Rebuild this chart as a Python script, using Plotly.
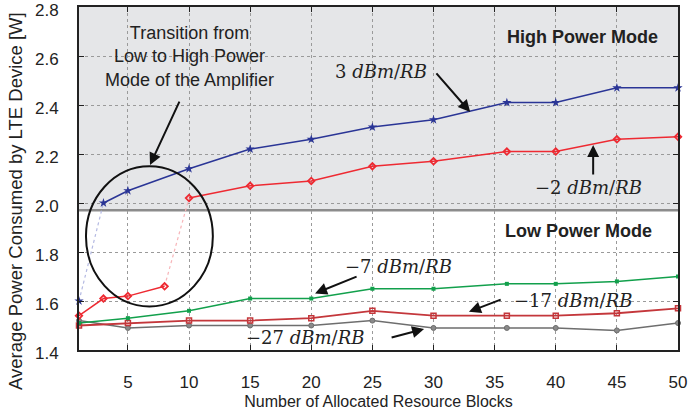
import plotly.graph_objects as go

# ---- data ----
x_blue = [1, 3, 5, 10, 15, 20, 25, 30, 36, 40, 45, 50]
p_3dbm = [1.60, 2.00, 2.05, 2.14, 2.22, 2.26, 2.31, 2.34, 2.41, 2.41, 2.47, 2.47]

x_red = [1, 3, 5, 8, 10, 15, 20, 25, 30, 36, 40, 45, 50]
p_m2dbm = [1.54, 1.61, 1.62, 1.66, 2.02, 2.07, 2.09, 2.15, 2.17, 2.21, 2.21, 2.26, 2.27]

x_low = [1, 5, 10, 15, 20, 25, 30, 36, 40, 45, 50]
p_m7dbm = [1.51, 1.53, 1.56, 1.61, 1.61, 1.65, 1.65, 1.67, 1.67, 1.68, 1.70]
p_m17dbm = [1.50, 1.51, 1.52, 1.52, 1.53, 1.56, 1.54, 1.54, 1.54, 1.55, 1.57]
p_m27dbm = [1.52, 1.49, 1.50, 1.50, 1.50, 1.52, 1.49, 1.49, 1.49, 1.48, 1.51]

x_ticks = [5, 10, 15, 20, 25, 30, 35, 40, 45, 50]
y_ticks = [1.4, 1.6, 1.8, 2.0, 2.2, 2.4, 2.6, 2.8]
mode_threshold = 1.97

BLUE = "#2a3596"
RED = "#ee2a32"
GREEN = "#12a04c"
DRED = "#c4373b"
GRAY = "#6e6e6e"

fig = go.Figure()

def seg(x, y, color, width=1.5, dash="solid", marker=None, mode="lines+markers"):
    fig.add_trace(go.Scatter(x=x, y=y, mode=mode, cliponaxis=False,
                             line=dict(color=color, width=width, dash=dash),
                             marker=marker, showlegend=False, hoverinfo="skip"))

# low-power curves
seg(x_low, p_m27dbm, GRAY, marker=dict(symbol="circle", size=5, color="#8a8a8a",
                                       line=dict(color=GRAY, width=1)))
seg(x_low, p_m17dbm, DRED, width=1.8, marker=dict(symbol="square-open", size=5, color=DRED,
                                                  line=dict(width=1.5)))
seg(x_low, p_m7dbm, GREEN, marker=dict(symbol="square", size=4, color=GREEN))

# transition (dotted) segments
seg(x_blue[0:2], p_3dbm[0:2], "#b4b9e2", width=1.2, dash="dot", mode="lines")
seg(x_red[3:5], p_m2dbm[3:5], "#f7b4b8", width=1.2, dash="dot", mode="lines")

# -2 dBm/RB
dmark = dict(symbol="diamond-open", size=5, color=RED, line=dict(width=1.8))
seg(x_red[0:4], p_m2dbm[0:4], RED, marker=dmark)
seg(x_red[4:], p_m2dbm[4:], RED, marker=dmark)

# 3 dBm/RB
smark = dict(symbol="star", size=7, color=BLUE)
seg(x_blue[0:1], p_3dbm[0:1], BLUE, marker=smark, mode="markers")
seg(x_blue[1:], p_3dbm[1:], BLUE, marker=smark)

shapes = [
    dict(type="rect", xref="x", yref="y", x0=1, x1=50, y0=mode_threshold, y1=2.8,
         fillcolor="#e5e6e8", line=dict(width=0), layer="below"),
    dict(type="line", xref="x", yref="y", x0=1, x1=50, y0=mode_threshold, y1=mode_threshold,
         line=dict(color="#8c8c8c", width=2.5), layer="below"),
    dict(type="circle", xref="x", yref="y", x0=1.57, x1=11.95, y0=1.578, y1=2.15,
         line=dict(color="#111111", width=2)),
]

SANS = "Liberation Sans, Arial, sans-serif"
SERIF = "DejaVu Serif, serif"
MS = 18

plot_l, plot_r, plot_t, plot_b = 79, 10, 7, 66
pw, ph = 688 - plot_l - plot_r, 416 - plot_t - plot_b

annotations = [
    # y-axis title (placed to match reference, slightly below axis centre)
    dict(x=(15 - plot_l) / pw, y=(416 - plot_b - 201) / ph, xref="paper", yref="paper",
         xanchor="center", yanchor="middle", showarrow=False, textangle=-90,
         text="Average Power Consumed by LTE Device [W]",
         font=dict(family=SANS, size=18.5, color="#222")),
    dict(x=6.81, y=2.155, ax=9.27, ay=2.42, xref="x", yref="y", axref="x", ayref="y",
         showarrow=True, arrowhead=2, arrowsize=1.2, arrowwidth=2, arrowcolor="#111", text=""),
    dict(x=10.05, y=2.596, xref="x", yref="y", showarrow=False,
         text="Transition from<br>Low to High Power<br>Mode of the Amplifier",
         font=dict(family=SANS, size=18, color="#222")),
    dict(x=42.2, y=2.678, xref="x", yref="y", showarrow=False,
         text="<b>High Power Mode</b>", font=dict(family=SANS, size=18, color="#222")),
    dict(x=41.9, y=1.886, xref="x", yref="y", showarrow=False,
         text="<b>Low Power Mode</b>", font=dict(family=SANS, size=18, color="#222")),
    # 3 dBm/RB
    dict(x=25.7, y=2.535, xref="x", yref="y", showarrow=False,
         text="3 <i>dBm</i>/<i>RB</i>", font=dict(family=SERIF, size=MS, color="#222")),
    dict(x=33.0, y=2.371, ax=30.13, ay=2.535, xref="x", yref="y", axref="x", ayref="y",
         showarrow=True, arrowhead=2, arrowsize=1.2, arrowwidth=2, arrowcolor="#111", text=""),
    # -2 dBm/RB
    dict(x=42.7, y=2.062, xref="x", yref="y", showarrow=False,
         text="−2 <i>dBm</i>/<i>RB</i>", font=dict(family=SERIF, size=MS, color="#222")),
    dict(x=43.06, y=2.237, ax=43.06, ay=2.11, xref="x", yref="y", axref="x", ayref="y",
         showarrow=True, arrowhead=2, arrowsize=1.2, arrowwidth=2, arrowcolor="#111", text=""),
    # -7 dBm/RB
    dict(x=27.1, y=1.74, xref="x", yref="y", showarrow=False,
         text="−7 <i>dBm</i>/<i>RB</i>", font=dict(family=SERIF, size=MS, color="#222")),
    dict(x=20.31, y=1.631, ax=23.83, ay=1.702, xref="x", yref="y", axref="x", ayref="y",
         showarrow=True, arrowhead=2, arrowsize=1.2, arrowwidth=2, arrowcolor="#111", text=""),
    # -17 dBm/RB
    dict(x=41.4, y=1.604, xref="x", yref="y", showarrow=False,
         text="−17 <i>dBm</i>/<i>RB</i>", font=dict(family=SERIF, size=MS, color="#222")),
    dict(x=32.9, y=1.556, ax=35.62, ay=1.608, xref="x", yref="y", axref="x", ayref="y",
         showarrow=True, arrowhead=2, arrowsize=1.2, arrowwidth=2, arrowcolor="#111", text=""),
    # -27 dBm/RB
    dict(x=19.5, y=1.453, xref="x", yref="y", showarrow=False,
         text="−27 <i>dBm</i>/<i>RB</i>", font=dict(family=SERIF, size=MS, color="#222")),
    dict(x=29.23, y=1.486, ax=26.45, ay=1.449, xref="x", yref="y", axref="x", ayref="y",
         showarrow=True, arrowhead=2, arrowsize=1.2, arrowwidth=2, arrowcolor="#111", text=""),
]

fig.update_layout(
    width=688, height=416,
    margin=dict(l=plot_l, r=plot_r, t=plot_t, b=plot_b, autoexpand=False),
    paper_bgcolor="white", plot_bgcolor="white",
    shapes=shapes, annotations=annotations,
    font=dict(family=SANS, color="#222"),
)
fig.update_xaxes(range=[1, 50], tickvals=x_ticks, showgrid=True, gridcolor="#9a9a9a",
                 griddash="dot", gridwidth=1, zeroline=False, automargin=False,
                 showline=True, linecolor="#222", linewidth=2, mirror="ticks",
                 ticks="inside", ticklen=5, tickcolor="#222", ticklabeloverflow="allow",
                 tickfont=dict(family=SANS, size=17, color="#222"), ticklabelstandoff=16,
                 title=dict(text="Number of Allocated Resource Blocks",
                            font=dict(family=SANS, size=16, color="#222"), standoff=4))
fig.update_yaxes(range=[1.4, 2.8], tickvals=y_ticks, tickformat=".1f", showgrid=True,
                 gridcolor="#9a9a9a", griddash="dot", gridwidth=1, zeroline=False,
                 automargin=False, ticklabeloverflow="allow", ticklabelshift=3,
                 showline=True, linecolor="#222", linewidth=2, mirror="ticks",
                 ticks="inside", ticklen=5, tickcolor="#222",
                 tickfont=dict(family=SANS, size=17, color="#222"), ticklabelstandoff=15)

fig.write_html("out.html", config={"displayModeBar": False},
               post_script="document.body.style.margin='0';document.body.style.overflow='hidden';")
